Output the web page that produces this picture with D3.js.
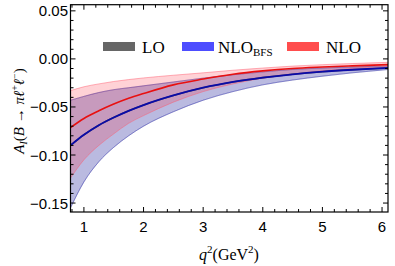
<!DOCTYPE html>
<html><head><meta charset="utf-8">
<script src="https://cdn.jsdelivr.net/npm/d3@7"></script>
<style>body{margin:0;background:#fff}svg{display:block}</style>
</head><body>
<script>
const q2 = [0.775, 1, 1.25, 1.5, 1.75, 2, 2.5, 3, 3.5, 4, 4.5, 5, 5.5, 6.1];
const nloC  = [-0.0715, -0.062, -0.054, -0.047, -0.041, -0.036, -0.027, -0.021, -0.016, -0.0125, -0.010, -0.0085, -0.0073, -0.006];
const nloUp = [-0.033, -0.029, -0.026, -0.0235, -0.0215, -0.0198, -0.017, -0.0145, -0.0118, -0.0095, -0.0075, -0.006, -0.0048, -0.0036];
const nloLo = [-0.124, -0.105, -0.090, -0.078, -0.067, -0.059, -0.045, -0.034, -0.026, -0.020, -0.016, -0.0125, -0.010, -0.0078];
const bfsC  = [-0.090, -0.079, -0.069, -0.061, -0.054, -0.048, -0.038, -0.030, -0.024, -0.0195, -0.016, -0.0133, -0.0113, -0.0094];
const bfsUp = [-0.043, -0.039, -0.035, -0.032, -0.030, -0.028, -0.024, -0.020, -0.0165, -0.0135, -0.011, -0.0095, -0.0084, -0.0073];
const bfsLo = [-0.155, -0.128, -0.107, -0.092, -0.080, -0.070, -0.055, -0.043, -0.034, -0.027, -0.022, -0.018, -0.0145, -0.011];
const loC  = bfsC, loUp = bfsUp, loLo = bfsLo;
const xTicks = [1, 2, 3, 4, 5, 6];
const yTicks = [-0.15, -0.10, -0.05, 0.00, 0.05];
const legendLabels = ["LO", "NLO", "NLO"];

const W = 395, H = 266;
const m = {l: 70.5, r: 388, t: 4.7, b: 212};
const svg = d3.select("body").append("svg").attr("width", W).attr("height", H);
const x = d3.scaleLinear().domain([0.775, 6.1]).range([m.l, m.r]);
const y = d3.scaleLinear().domain([-0.1593, 0.0564]).range([m.b, m.t]);

svg.append("defs").append("clipPath").attr("id", "clip")
  .append("rect").attr("x", m.l).attr("y", m.t).attr("width", m.r - m.l).attr("height", m.b - m.t);
const g = svg.append("g").attr("clip-path", "url(#clip)");

function band(up, lo, fill, edge) {
  const pts = q2.map((d, i) => ({x: d, u: up[i], l: lo[i]}));
  g.append("path").datum(pts)
    .attr("d", d3.area().x(d => x(d.x)).y0(d => y(d.l)).y1(d => y(d.u)).curve(d3.curveMonotoneX))
    .attr("fill", fill);
  [up, lo].forEach(arr => {
    g.append("path").datum(pts.map((p, i) => ({x: p.x, v: arr[i]})))
      .attr("d", d3.line().x(d => x(d.x)).y(d => y(d.v)).curve(d3.curveMonotoneX))
      .attr("fill", "none").attr("stroke", edge).attr("stroke-width", 0.8);
  });
}
function line(vals, color, w) {
  g.append("path").datum(q2.map((d, i) => ({x: d, v: vals[i]})))
    .attr("d", d3.line().x(d => x(d.x)).y(d => y(d.v)).curve(d3.curveMonotoneX))
    .attr("fill", "none").attr("stroke", color).attr("stroke-width", w);
}
band(loUp, loLo, "rgba(0,0,0,0.14)", "rgba(80,80,80,0.4)");
band(bfsUp, bfsLo, "rgba(20,20,255,0.16)", "rgba(60,60,220,0.5)");
band(nloUp, nloLo, "rgba(255,30,50,0.2)", "rgba(255,90,110,0.6)");
line(loC, "#555", 1.6);
line(bfsC, "#0a0aa8", 1.8);
line(nloC, "#e81010", 1.6);

// frame
svg.append("rect").attr("x", m.l).attr("y", m.t).attr("width", m.r - m.l).attr("height", m.b - m.t)
  .attr("fill", "none").attr("stroke", "#000").attr("stroke-width", 1.2);

const tk = svg.append("g").attr("stroke", "#000").attr("stroke-width", 1);
const xMinor = d3.range(0.8, 6.1001, 0.2);
xMinor.forEach(v => {
  const major = xTicks.some(t => Math.abs(t - v) < 1e-6);
  const L = major ? 5 : 3;
  tk.append("line").attr("x1", x(v)).attr("x2", x(v)).attr("y1", m.b).attr("y2", m.b - L);
  tk.append("line").attr("x1", x(v)).attr("x2", x(v)).attr("y1", m.t).attr("y2", m.t + L);
});
const yMinor = d3.range(-0.15, 0.0501, 0.01);
yMinor.forEach(v => {
  const major = yTicks.some(t => Math.abs(t - v) < 1e-6);
  const L = major ? 5 : 3;
  tk.append("line").attr("y1", y(v)).attr("y2", y(v)).attr("x1", m.l).attr("x2", m.l + L);
  tk.append("line").attr("y1", y(v)).attr("y2", y(v)).attr("x1", m.r).attr("x2", m.r - L);
});

const tf = "'Liberation Sans', Arial, sans-serif";
svg.append("g").selectAll("text").data(xTicks).join("text")
  .attr("x", d => x(d)).attr("y", 232).attr("text-anchor", "middle")
  .attr("font-family", tf).attr("font-size", 15).text(d => d3.format("d")(d));
svg.append("g").selectAll("text").data(yTicks).join("text")
  .attr("x", 68).attr("y", d => y(d) + 5.5).attr("text-anchor", "end")
  .attr("font-family", tf).attr("font-size", 15)
  .text(d => d3.format(".2f")(d).replace("-", "\u2212"));

const sf = "'Liberation Serif', 'DejaVu Serif', serif";
// x label
const xl = svg.append("text").attr("x", 229).attr("y", 260).attr("text-anchor", "middle")
  .attr("font-family", sf).attr("font-size", 16);
xl.append("tspan").attr("font-style", "italic").text("q");
xl.append("tspan").attr("font-size", 11).attr("dy", -7).text("2");
xl.append("tspan").attr("dy", 7).text("(GeV");
xl.append("tspan").attr("font-size", 11).attr("dy", -7).text("2");
xl.append("tspan").attr("dy", 7).text(")");

// y label
const yl = svg.append("text").attr("transform", "translate(24,111) rotate(-90)")
  .attr("text-anchor", "middle").attr("font-family", sf).attr("font-size", 15);
yl.append("tspan").attr("font-style", "italic").text("A");
yl.append("tspan").attr("font-style", "italic").attr("font-size", 10).attr("dy", 3).text("I");
yl.append("tspan").attr("dy", -3).text("(");
yl.append("tspan").attr("font-style", "italic").text("B");
yl.append("tspan").text(" \u2192 ");
yl.append("tspan").attr("font-style", "italic").text("\u03c0\u2113");
yl.append("tspan").attr("font-size", 10).attr("dy", -6).text("+");
yl.append("tspan").attr("font-style", "italic").attr("dy", 6).text("\u2113");
yl.append("tspan").attr("font-size", 10).attr("dy", -6).text("\u2212");
yl.append("tspan").attr("dy", 6).text(")");

// legend
const leg = [
  {x: 103, color: "#666666", tx: 142, label: legendLabels[0], sub: ""},
  {x: 182, color: "#4d4dff", tx: 218, label: legendLabels[1], sub: "BFS"},
  {x: 287, color: "#ff4d4d", tx: 326, label: legendLabels[2], sub: ""}
];
leg.forEach(d => {
  svg.append("rect").attr("x", d.x).attr("y", 42).attr("width", 32).attr("height", 9).attr("fill", d.color);
  const t = svg.append("text").attr("x", d.tx).attr("y", 52.5).attr("font-family", sf).attr("font-size", 17).text(d.label);
  if (d.sub) t.append("tspan").attr("font-size", 11).attr("dy", 3).text(d.sub);
});
</script>
</body></html>
